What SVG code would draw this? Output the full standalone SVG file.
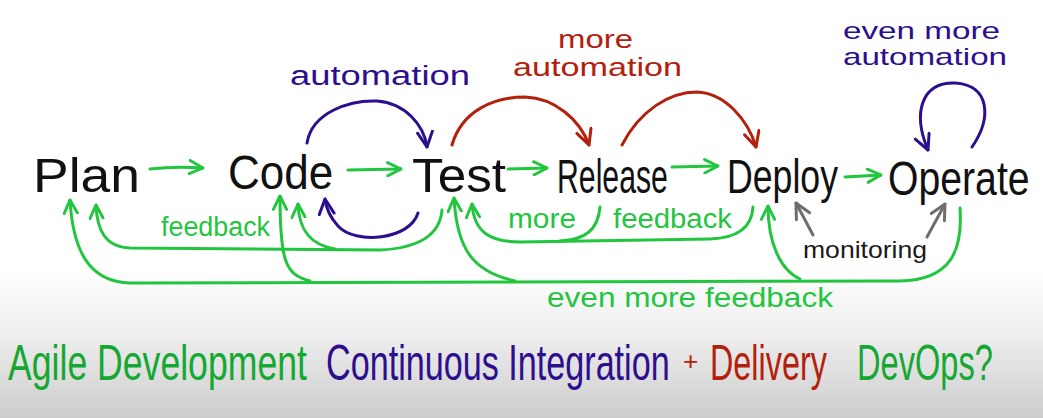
<svg xmlns="http://www.w3.org/2000/svg" width="1043" height="418" viewBox="0 0 1043 418">
<defs>
<linearGradient id="bg" x1="0" y1="0" x2="0" y2="418" gradientUnits="userSpaceOnUse">
<stop offset="0" stop-color="#ffffff"/>
<stop offset="0.64" stop-color="#ffffff"/>
<stop offset="0.8" stop-color="#eeeeee"/>
<stop offset="1" stop-color="#cdcdcd"/>
</linearGradient>
<marker id="mg" viewBox="0 0 12 12" refX="11" refY="6" markerWidth="16" markerHeight="16" markerUnits="userSpaceOnUse" orient="auto"><path d="M1,1 L11,6 L1,11" fill="none" stroke="#22c63e" stroke-width="2.2" stroke-linecap="round" stroke-linejoin="round"/></marker>
<marker id="mb" viewBox="0 0 12 12" refX="11" refY="6" markerWidth="18" markerHeight="18" markerUnits="userSpaceOnUse" orient="auto"><path d="M1,1 L11,6 L1,11" fill="none" stroke="#2c0e8e" stroke-width="2" stroke-linecap="round" stroke-linejoin="round"/></marker>
<marker id="mr" viewBox="0 0 12 12" refX="11" refY="6" markerWidth="18" markerHeight="18" markerUnits="userSpaceOnUse" orient="auto"><path d="M1,1 L11,6 L1,11" fill="none" stroke="#b3200c" stroke-width="2" stroke-linecap="round" stroke-linejoin="round"/></marker>
<marker id="mk" viewBox="0 0 12 12" refX="11" refY="6" markerWidth="18" markerHeight="18" markerUnits="userSpaceOnUse" orient="auto"><path d="M1,1 L11,6 L1,11" fill="none" stroke="#6e6e6e" stroke-width="2" stroke-linecap="round" stroke-linejoin="round"/></marker>
</defs>
<style>
text{font-family:"Liberation Sans",Arial,sans-serif;}
.node{font-size:48px;fill:#111111;}
.lbl{font-size:27px;}
.big{font-size:50px;}
.g{fill:#22c63e;} .b{fill:#2c0e8e;} .r{fill:#b3200c;} .k{fill:#1a1a1a;}
.dg{fill:#14a832;}
.c{fill:none;stroke-width:3;stroke-linecap:round;stroke-linejoin:round;}
.cg{stroke:#22c63e;marker-end:url(#mg);}
.cgn{stroke:#22c63e;}
.cb{stroke:#2c0e8e;marker-end:url(#mb);}
.cr{stroke:#b3200c;marker-end:url(#mr);}
.ck{stroke:#6e6e6e;marker-end:url(#mk);}
</style>
<rect x="0" y="0" width="1043" height="418" fill="url(#bg)"/>

<g id="connectors">
<path class="c cg" d="M150,169 Q175,166 203,168"/>
<path class="c cg" d="M348,170 L401,169"/>
<path class="c cg" d="M508,169 L547,168"/>
<path class="c cg" d="M672,167 L718,166"/>
<path class="c cg" d="M845,177 L881,175"/>
<path class="c cb" d="M307,143 C312,112 350,100 377,101 C405,103 424,125 427,147"/>
<path class="c cr" d="M452,145 C462,110 495,97 525,97 C555,98 580,120 589,145"/>
<path class="c cr" d="M622,145 C640,110 670,92 697,92 C725,93 748,120 756,147"/>
<path class="c cb" d="M972,147 C992,118 990,85 955,83 C922,82 912,112 928,150"/>
<path class="c cb" d="M418,213 C410,240 355,245 338,226 C330,217 326,208 325,199"/>
<path class="c cg" d="M960,208 C963,252 950,280 900,281 L130,283 C90,282 73,252 70,200"/>
<path class="c cg" d="M800,279 C780,270 768,242 768,206"/>
<path class="c cg" d="M515,281 C475,272 457,252 454,198"/>
<path class="c cg" d="M310,281 C285,275 280,260 280,196"/>
<path class="c cg" d="M442,210 C440,235 420,248 380,250 L130,248 C105,247 97,230 96,205"/>
<path class="c cg" d="M335,249 C310,245 299,230 298,204"/>
<path class="c cg" d="M753,207 C752,225 740,238 710,239 L520,242 C490,242 474,232 472,204"/>
<path class="c cgn" d="M600,207 C598,230 585,240 560,241"/>
<path class="c ck" d="M813,235 L796,203"/>
<path class="c ck" d="M927,237 L945,204"/>
</g>

<g id="plan"><text class="node" x="33" y="192" textLength="107" lengthAdjust="spacingAndGlyphs">Plan</text></g>
<g id="code"><text class="node" transform="translate(228,189) scale(0.9,1)" x="0" y="0" textLength="117" lengthAdjust="spacingAndGlyphs">Code</text></g>
<g id="test"><text class="node" x="412" y="192" textLength="94" lengthAdjust="spacingAndGlyphs">Test</text></g>
<g id="release"><text class="node" transform="translate(557,193) scale(0.66,1)" x="0" y="0" textLength="168" lengthAdjust="spacingAndGlyphs">Release</text></g>
<g id="deploy"><text class="node" transform="translate(727,193) scale(0.75,1)" x="0" y="0" textLength="148" lengthAdjust="spacingAndGlyphs">Deploy</text></g>
<g id="operate"><text class="node" transform="translate(888,195) scale(0.8,1)" x="0" y="0" textLength="177" lengthAdjust="spacingAndGlyphs">Operate</text></g>

<g id="labels">
<text class="lbl b" x="290" y="85" textLength="180" lengthAdjust="spacingAndGlyphs">automation</text>
<text class="lbl r" x="558" y="48" style="font-size:25px" textLength="75" lengthAdjust="spacingAndGlyphs">more</text>
<text class="lbl r" x="513" y="76" style="font-size:25px" textLength="169" lengthAdjust="spacingAndGlyphs">automation</text>
<text class="lbl b" x="843" y="39" style="font-size:24px" textLength="157" lengthAdjust="spacingAndGlyphs">even more</text>
<text class="lbl b" x="843" y="65" style="font-size:24px" textLength="164" lengthAdjust="spacingAndGlyphs">automation</text>
<text class="lbl g" x="161" y="236" textLength="109" lengthAdjust="spacingAndGlyphs">feedback</text>
<text class="lbl g" x="508" y="228" textLength="68" lengthAdjust="spacingAndGlyphs">more</text>
<text class="lbl g" x="613" y="228" textLength="119" lengthAdjust="spacingAndGlyphs">feedback</text>
<text class="lbl k" x="803" y="258" style="font-size:24px" textLength="124" lengthAdjust="spacingAndGlyphs">monitoring</text>
<text class="lbl g" x="547" y="307" textLength="286" lengthAdjust="spacingAndGlyphs">even more feedback</text>
</g>

<g id="bottom">
<text class="big dg" transform="translate(8,380) scale(0.7,1)" x="0" y="0" textLength="427" lengthAdjust="spacingAndGlyphs">Agile Development</text>
<text class="big b" transform="translate(326,380) scale(0.7,1)" x="0" y="0" textLength="491" lengthAdjust="spacingAndGlyphs">Continuous Integration</text>
<text class="r" x="683" y="370" style="font-size:26px">+</text>
<text class="big r" transform="translate(710,380) scale(0.7,1)" x="0" y="0" textLength="167" lengthAdjust="spacingAndGlyphs">Delivery</text>
<text class="big dg" transform="translate(857,380) scale(0.7,1)" x="0" y="0" textLength="194" lengthAdjust="spacingAndGlyphs">DevOps?</text>
</g>
</svg>
